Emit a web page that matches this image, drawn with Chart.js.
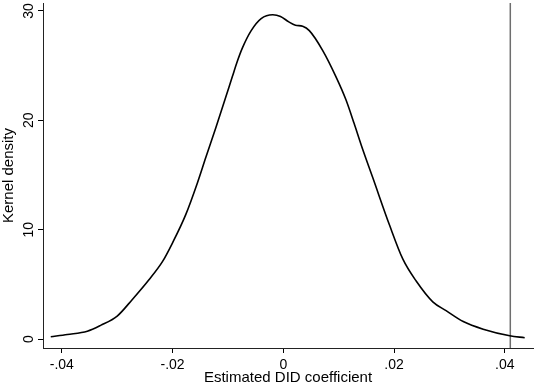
<!DOCTYPE html>
<html>
<head>
<meta charset="utf-8">
<script src="https://cdn.jsdelivr.net/npm/chart.js@4"></script>
<style>
  html, body { margin: 0; padding: 0; background: #fff; }
  #wrap { width: 536px; height: 391px; }
</style>
</head>
<body>
<div id="wrap"><canvas id="kdens"></canvas></div>
<script>
// estimated DID coefficients (x) and kernel density (y)
const coefX = [-0.042, -0.039, -0.0354, -0.033, -0.03, -0.0273, -0.0243, -0.0218, -0.02, -0.0176,
  -0.0155, -0.014, -0.0122, -0.0104, -0.0092, -0.0083, -0.0074, -0.0058, -0.004, -0.0019,
  -0.0005, 0.001, 0.0022, 0.0035, 0.0047, 0.0071, 0.0095, 0.0113, 0.0128, 0.0141,
  0.0162, 0.0192, 0.0216, 0.024, 0.027, 0.0294, 0.0325, 0.0361, 0.0409, 0.0436];
const densY = [0.21, 0.42, 0.72, 1.25, 2.1, 3.6, 5.4, 7.1, 8.8, 11.4,
  14.3, 16.6, 19.3, 22.1, 24.0, 25.4, 26.6, 28.2, 29.3, 29.65,
  29.5, 29.0, 28.7, 28.6, 28.2, 26.4, 24.0, 21.9, 19.7, 17.7,
  14.7, 10.4, 7.3, 5.3, 3.4, 2.6, 1.6, 0.9, 0.3, 0.12];

// actual estimate (vertical reference line)
const trueCoef = 0.041;

const xTicks = [-0.04, -0.02, 0, 0.02, 0.04];
const yTicks = [0, 10, 20, 30];

const fmtX = v => {
  if (Math.abs(v) < 1e-9) return '0';
  return (v < 0 ? '-' : '') + Math.abs(v).toFixed(2).replace(/^0/, '');
};

const FAMILY = 'Liberation Sans, Arial, sans-serif';
const tickFont = { family: FAMILY, size: 14 };
const titleFont = { family: FAMILY, size: 15 };

// y tick labels are drawn turned 90deg, centred on each tick
const yLabels = {
  id: 'yLabels',
  afterDraw(chart) {
    const ys = chart.scales.y;
    const ctx = chart.ctx;
    ctx.save();
    ctx.font = '14px ' + FAMILY;
    ctx.fillStyle = '#000';
    ctx.textAlign = 'center';
    ctx.textBaseline = 'middle';
    yTicks.forEach(v => {
      ctx.save();
      ctx.translate(ys.left + 29, ys.getPixelForValue(v));
      ctx.rotate(-Math.PI / 2);
      ctx.fillText(String(v), 0, 0);
      ctx.restore();
    });
    ctx.restore();
  }
};

new Chart(document.getElementById('kdens'), {
  type: 'line',
  data: {
    datasets: [{
      data: coefX.map((x, i) => ({ x: x, y: densY[i] })),
      borderColor: '#000',
      borderWidth: 1.6,
      pointRadius: 0,
      cubicInterpolationMode: 'monotone',
      fill: false
    }, {
      data: [{ x: trueCoef, y: -0.82 }, { x: trueCoef, y: 30.73 }],
      borderColor: '#6e6e6e',
      borderWidth: 1.5,
      pointRadius: 0
    }]
  },
  options: {
    responsive: true,
    maintainAspectRatio: false,
    animation: false,
    layout: { padding: { top: 3, right: 3, left: 0, bottom: 4 } },
    plugins: { legend: { display: false }, tooltip: { enabled: false } },
    scales: {
      x: {
        type: 'linear',
        min: -0.0434,
        max: 0.0451,
        afterBuildTicks: s => { s.ticks = xTicks.map(v => ({ value: v })); },
        afterFit: s => { s.height = 39; },
        ticks: { color: '#000', font: tickFont, padding: 4, maxRotation: 0, callback: v => fmtX(v) },
        grid: { drawOnChartArea: false, drawTicks: true, tickLength: 5, color: '#000' },
        border: { display: true, color: '#222', width: 1 },
        title: { display: true, text: 'Estimated DID coefficient', color: '#000', font: titleFont, padding: 0 }
      },
      y: {
        type: 'linear',
        min: -0.82,
        max: 30.73,
        afterBuildTicks: s => { s.ticks = yTicks.map(v => ({ value: v })); },
        afterFit: s => { s.width = 43; },
        ticks: { display: false },
        grid: { drawOnChartArea: false, drawTicks: true, tickLength: 5, color: '#000' },
        border: { display: true, color: '#222', width: 1 },
        title: { display: true, text: 'Kernel density', color: '#000', font: titleFont, padding: 0 }
      }
    }
  },
  plugins: [yLabels]
});
</script>
</body>
</html>
